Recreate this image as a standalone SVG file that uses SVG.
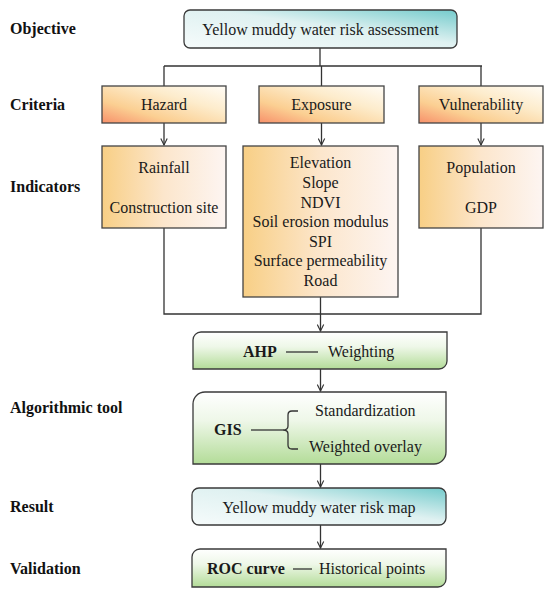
<svg xmlns="http://www.w3.org/2000/svg" width="550" height="595" viewBox="0 0 550 595">
<defs>
<linearGradient id="teal" x1="0" y1="1" x2="1" y2="0">
<stop offset="0" stop-color="#f6fbfb"/>
<stop offset="0.55" stop-color="#dff1f1"/>
<stop offset="1" stop-color="#74cbcc"/>
</linearGradient>
<linearGradient id="crit" x1="0" y1="1" x2="1" y2="0">
<stop offset="0" stop-color="#f7906a"/>
<stop offset="0.3" stop-color="#fbcf92"/>
<stop offset="0.65" stop-color="#fdeccc"/>
<stop offset="1" stop-color="#fffcf6"/>
</linearGradient>
<linearGradient id="ind" x1="0" y1="0" x2="1" y2="0">
<stop offset="0" stop-color="#f8cf85"/>
<stop offset="0.5" stop-color="#fce6cc"/>
<stop offset="1" stop-color="#fdf5f2"/>
</linearGradient>
<linearGradient id="green" x1="0" y1="0" x2="0" y2="1">
<stop offset="0" stop-color="#ffffff"/>
<stop offset="0.4" stop-color="#eef7e8"/>
<stop offset="1" stop-color="#b3dc98"/>
</linearGradient>
<marker id="arr" viewBox="0 0 10 10" refX="9" refY="5" markerWidth="8" markerHeight="8" markerUnits="userSpaceOnUse" orient="auto">
<path d="M1,1 L9,5 L1,9" fill="none" stroke="#333" stroke-width="1.4"/>
</marker>
<style>
.lbl{font-family:"Liberation Serif","Times New Roman",serif;font-size:16px;font-weight:bold;fill:#111}
.t{font-family:"Liberation Serif","Times New Roman",serif;font-size:16px;fill:#1a1a1a}
.tc{font-family:"Liberation Serif","Times New Roman",serif;font-size:16px;fill:#1a1a1a;text-anchor:middle}
.b{font-weight:bold}
.box{stroke:#444;stroke-width:1.3}
.rbox{stroke:#3a3a3a;stroke-width:1.3}
.ln{fill:none;stroke:#333;stroke-width:1.3}
</style>
</defs>

<g id="labels">
<text class="lbl" x="10" y="34">Objective</text>
<text class="lbl" x="10" y="110">Criteria</text>
<text class="lbl" x="10" y="192">Indicators</text>
<text class="lbl" x="10" y="413">Algorithmic tool</text>
<text class="lbl" x="10" y="512">Result</text>
<text class="lbl" x="10" y="574">Validation</text>
</g>

<g id="connectors">
<path class="ln" d="M320,48 V66 M164,66 H482 M164,66 V86 M321.5,66 V86 M481,66 V86"/>
<line class="ln" x1="164" y1="123" x2="164" y2="145" marker-end="url(#arr)"/>
<line class="ln" x1="321.5" y1="123" x2="321.5" y2="145" marker-end="url(#arr)"/>
<line class="ln" x1="481" y1="123" x2="481" y2="145" marker-end="url(#arr)"/>
<path class="ln" d="M164,228 V314 H481 V228"/>
<line class="ln" x1="320.5" y1="297" x2="320.5" y2="331" marker-end="url(#arr)"/>
<line class="ln" x1="320.5" y1="369" x2="320.5" y2="391" marker-end="url(#arr)"/>
<line class="ln" x1="320.5" y1="464" x2="320.5" y2="487" marker-end="url(#arr)"/>
<line class="ln" x1="320.5" y1="525" x2="320.5" y2="548" marker-end="url(#arr)"/>
</g>

<g id="objective">
<rect class="rbox" x="184" y="10" width="273" height="38" rx="6" fill="url(#teal)"/>
<text class="tc" x="320.5" y="35">Yellow muddy water risk assessment</text>
</g>

<g id="hazard">
<rect class="box" x="102" y="86" width="124" height="37" fill="url(#crit)"/>
<text class="tc" x="164" y="110">Hazard</text>
</g>
<g id="exposure">
<rect class="box" x="259" y="86" width="125" height="37" fill="url(#crit)"/>
<text class="tc" x="321.5" y="110">Exposure</text>
</g>
<g id="vulnerability">
<rect class="box" x="419" y="86" width="124" height="37" fill="url(#crit)"/>
<text class="tc" x="481" y="110">Vulnerability</text>
</g>

<g id="hazard-indicators">
<rect class="box" x="102" y="146" width="124" height="82" fill="url(#ind)"/>
<text class="tc" x="164" y="173">Rainfall</text>
<text class="tc" x="164" y="213">Construction site</text>
</g>
<g id="exposure-indicators">
<rect class="box" x="243" y="146" width="155" height="151" fill="url(#ind)"/>
<text class="tc" x="320.5" y="168">Elevation</text>
<text class="tc" x="320.5" y="188">Slope</text>
<text class="tc" x="320.5" y="208">NDVI</text>
<text class="tc" x="320.5" y="227">Soil erosion modulus</text>
<text class="tc" x="320.5" y="247">SPI</text>
<text class="tc" x="320.5" y="266">Surface permeability</text>
<text class="tc" x="320.5" y="286">Road</text>
</g>
<g id="vulnerability-indicators">
<rect class="box" x="419" y="146" width="124" height="82" fill="url(#ind)"/>
<text class="tc" x="481" y="173">Population</text>
<text class="tc" x="481" y="213">GDP</text>
</g>

<g id="ahp">
<path class="rbox" d="M201,332 H447 V361 A8,8 0 0 1 439,369 H193 V340 A8,8 0 0 1 201,332 Z" fill="url(#green)"/>
<text class="t b" x="243" y="357">AHP</text>
<line class="ln" x1="286" y1="352" x2="318" y2="352"/>
<text class="t" x="328" y="357">Weighting</text>
</g>

<g id="gis">
<path class="rbox" d="M205,392 H446 V452 A12,12 0 0 1 434,464 H193 V404 A12,12 0 0 1 205,392 Z" fill="url(#green)"/>
<text class="t b" x="214" y="435">GIS</text>
<line class="ln" x1="251" y1="430" x2="283" y2="430"/>
<path class="ln" d="M298,411 H292 Q288,411 288,415 V426 Q288,430 283,430 Q288,430 288,434 V445 Q288,449 292,449 H298"/>
<text class="t" x="315" y="416">Standardization</text>
<text class="t" x="309" y="452">Weighted overlay</text>
</g>

<g id="result">
<rect class="rbox" x="192" y="488" width="254" height="37" rx="7" fill="url(#teal)"/>
<text class="tc" x="319" y="513">Yellow muddy water risk map</text>
</g>

<g id="validation">
<path class="rbox" d="M200,549 H446 V579 A8,8 0 0 1 438,587 H192 V557 A8,8 0 0 1 200,549 Z" fill="url(#green)"/>
<text class="t b" x="207" y="574">ROC curve</text>
<line class="ln" x1="293" y1="569" x2="312" y2="569" stroke-width="1.8"/>
<text class="t" x="319" y="574">Historical points</text>
</g>
</svg>
